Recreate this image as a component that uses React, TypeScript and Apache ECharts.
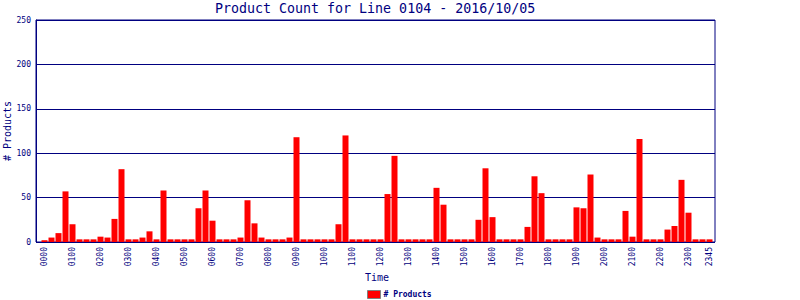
import React, { useEffect, useRef } from "react";
import * as echarts from "echarts";

const times: string[] = [
  "0000", "0015", "0030", "0045", "0100", "0115", "0130", "0145",
  "0200", "0215", "0230", "0245", "0300", "0315", "0330", "0345",
  "0400", "0415", "0430", "0445", "0500", "0515", "0530", "0545",
  "0600", "0615", "0630", "0645", "0700", "0715", "0730", "0745",
  "0800", "0815", "0830", "0845", "0900", "0915", "0930", "0945",
  "1000", "1015", "1030", "1045", "1100", "1115", "1130", "1145",
  "1200", "1215", "1230", "1245", "1300", "1315", "1330", "1345",
  "1400", "1415", "1430", "1445", "1500", "1515", "1530", "1545",
  "1600", "1615", "1630", "1645", "1700", "1715", "1730", "1745",
  "1800", "1815", "1830", "1845", "1900", "1915", "1930", "1945",
  "2000", "2015", "2030", "2045", "2100", "2115", "2130", "2145",
  "2200", "2215", "2230", "2245", "2300", "2315", "2330", "2345",
];

const productCounts: number[] = [
  2, 5, 10, 57, 20, 3, 3, 3,
  6, 5, 26, 82, 3, 3, 5, 12,
  3, 58, 3, 3, 3, 3, 38, 58,
  24, 3, 3, 3, 5, 47, 21, 5,
  3, 3, 3, 5, 118, 3, 3, 3,
  3, 3, 20, 120, 3, 3, 3, 3,
  3, 54, 97, 3, 3, 3, 3, 3,
  61, 42, 3, 3, 3, 3, 25, 83,
  28, 3, 3, 3, 3, 17, 74, 55,
  3, 3, 3, 3, 39, 38, 76, 5,
  3, 3, 3, 35, 6, 116, 3, 3,
  3, 14, 18, 70, 33, 3, 3, 3,
];

const yTicks = { min: 0, max: 250, interval: 50 };
const titleText = "Product Count for Line 0104 - 2016/10/05";
const seriesName = "# Products";
const xName = "Time";
const yName = "# Products";

const NAVY = "#000080";
const MONO = "DejaVu Sans Mono";

export default function App() {
  const ref = useRef<HTMLDivElement>(null);

  useEffect(() => {
    if (!ref.current) return;
    const chart = echarts.init(ref.current, null, { renderer: "svg" });
    const lastIdx = times.length - 1;
    chart.setOption({
      animation: false,
      backgroundColor: "#ffffff",
      textStyle: { fontFamily: MONO },
      title: {
        text: titleText,
        left: 215,
        top: 2,
        padding: 0,
        textStyle: {
          fontFamily: MONO,
          fontSize: 13.3,
          fontWeight: "normal",
          color: NAVY,
        },
      },
      legend: {
        data: [seriesName],
        left: 367,
        top: 290,
        padding: 0,
        icon: "rect",
        itemWidth: 13,
        itemHeight: 8,
        itemGap: 0,
        textStyle: {
          fontFamily: MONO,
          fontSize: 8,
          fontWeight: "bold",
          color: NAVY,
          padding: [0, 0, 0, -2],
        },
        itemStyle: { borderColor: "#808080", borderWidth: 1 },
      },
      grid: [
        {
          left: 36,
          right: 85,
          top: 20,
          height: 222,
          show: true,
          borderColor: NAVY,
          borderWidth: 1,
          backgroundColor: "transparent",
          containLabel: false,
          outerBoundsMode: "none",
        },
        {
          left: 41,
          width: 672,
          top: 20,
          height: 222,
          containLabel: false,
          outerBoundsMode: "none",
        },
      ],
      xAxis: [
        { type: "value", gridIndex: 0, show: false, min: 0, max: 1 },
        {
          type: "category",
          gridIndex: 1,
          data: times,
          name: xName,
          nameLocation: "middle",
          nameGap: 30,
          nameMoveOverlap: false,
          nameTextStyle: { fontFamily: MONO, fontSize: 10, color: NAVY },
          axisLine: { show: false },
          axisTick: { show: false },
          axisLabel: {
            rotate: 90,
            margin: 5,
            fontFamily: MONO,
            fontSize: 8,
            color: NAVY,
            interval: (i: number) => i % 4 === 0 || i === lastIdx,
          },
        },
      ],
      yAxis: [
        {
          type: "value",
          gridIndex: 0,
          min: yTicks.min,
          max: yTicks.max,
          interval: yTicks.interval,
          name: yName,
          nameLocation: "middle",
          nameGap: 24,
          nameMoveOverlap: false,
          nameTextStyle: { fontFamily: MONO, fontSize: 10, color: NAVY },
          axisLine: { show: true, lineStyle: { color: NAVY, width: 1 } },
          axisTick: { show: false },
          axisLabel: {
            margin: 5,
            fontFamily: MONO,
            fontSize: 8,
            color: NAVY,
          },
          splitLine: { show: true, lineStyle: { color: NAVY, width: 1, type: "solid" } },
        },
        {
          type: "value",
          gridIndex: 1,
          min: yTicks.min,
          max: yTicks.max,
          interval: yTicks.interval,
          show: false,
          splitLine: { show: false },
        },
      ],
      series: [
        {
          name: seriesName,
          type: "bar",
          xAxisIndex: 1,
          yAxisIndex: 1,
          data: productCounts,
          barWidth: 6,
          itemStyle: { color: "#ff0000" },
        },
      ],
    });
    return () => chart.dispose();
  }, []);

  return (
    <div
      ref={ref}
      style={{ position: "fixed", left: 0, top: 0, width: 800, height: 300 }}
    />
  );
}
